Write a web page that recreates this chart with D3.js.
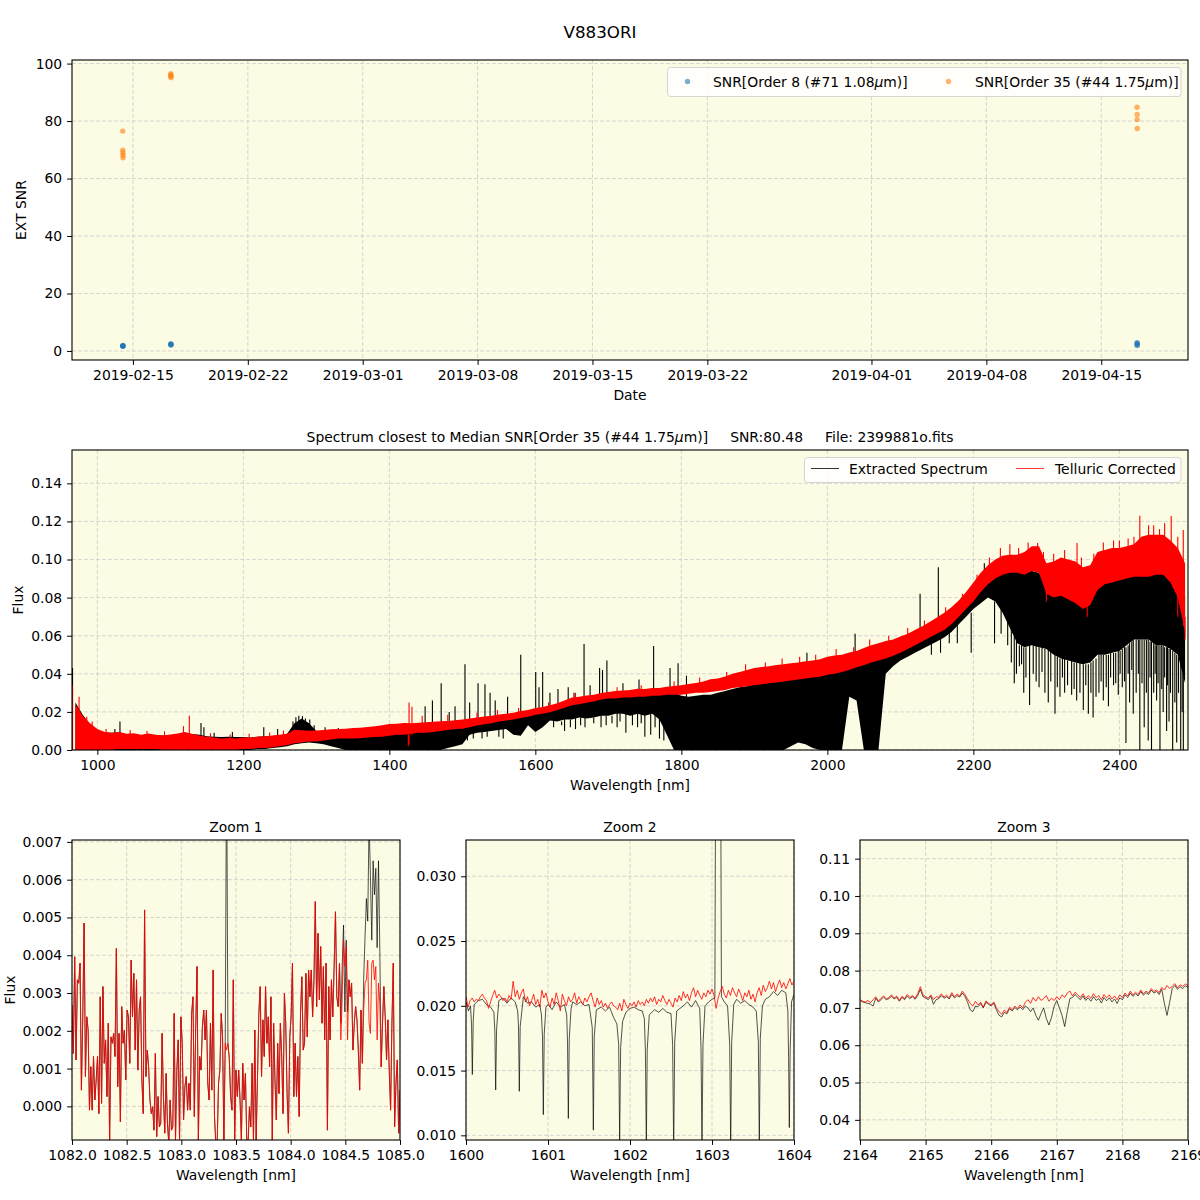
<!DOCTYPE html>
<html><head><meta charset="utf-8">
<script src="https://cdn.jsdelivr.net/npm/d3@7"></script>
<style>
body{margin:0;background:#fff;}
svg{display:block;font-family:'DejaVu Sans',sans-serif;}
</style></head><body>
<svg id="chart" width="1200" height="1200"></svg>
<script>
// ---------------- DATA ----------------
// Top panel: SNR per exposure
const obsTimes = ["2019-02-14T09:05","2019-02-14T09:12","2019-02-14T09:19","2019-02-14T09:26","2019-02-14T09:33",
  "2019-02-17T07:20","2019-02-17T07:27","2019-02-17T07:34","2019-02-17T07:41",
  "2019-04-17T04:20","2019-04-17T04:27","2019-04-17T04:34","2019-04-17T04:41"];
const snrOrder8  = [1.7,1.8,1.6,1.9,1.7, 2.2,2.5,2.3,2.1, 2.9,2.2,1.9,2.6];
const snrOrder35 = [76.5,69.9,69.0,68.1,67.2, 96.5,96.0,95.6,95.1, 84.8,82.3,80.5,77.4];
const dateTicks = ["2019-02-15","2019-02-22","2019-03-01","2019-03-08","2019-03-15","2019-03-22","2019-04-01","2019-04-08","2019-04-15"];
const snrTicks = [0,20,40,60,80,100];

// Middle panel: full spectrum, band envelopes (low/high edge of the dense trace) per wavelength bin
const specWave = [970,980,990,1000,1010,1020,1030,1040,1050,1060,1070,1080,1090,1100,1110,1120,1130,1140,1150,1160,
1170,1180,1190,1200,1210,1220,1230,1240,1250,1260,1270,1280,1290,1300,1310,1320,1330,1340,1350,1360,
1370,1380,1390,1400,1410,1420,1430,1440,1450,1460,1470,1480,1490,1500,1510,1520,1530,1540,1550,1560,
1570,1580,1590,1600,1610,1620,1630,1640,1650,1660,1670,1680,1690,1700,1710,1720,1730,1740,1750,1760,
1770,1780,1790,1800,1810,1820,1830,1840,1850,1860,1870,1880,1890,1900,1910,1920,1930,1940,1950,1960,
1970,1980,1990,2000,2010,2020,2030,2040,2050,2060,2070,2080,2090,2100,2110,2120,2130,2140,2150,2160,
2170,2180,2190,2200,2210,2220,2230,2240,2250,2260,2270,2280,2290,2300,2310,2320,2330,2340,2350,2360,
2370,2380,2390,2400,2410,2420,2430,2440,2450,2460,2470,2480,2490];
const redLo = [0,0,0,0,0,0,0.0005,0.0005,0.0005,0.0005,
0.0005,0.0005,0,0,0,0,0,0,0,0,
0,0,0,0.0005,0.0005,0.001,0.001,0.0015,0.002,0.0025,
0.0035,0.004,0.0045,0.0045,0.005,0.0055,0.006,0.006,0.006,0.0062,
0.0065,0.0068,0.007,0.0075,0.008,0.008,0.0085,0.009,0.009,0.0095,
0.010,0.0105,0.011,0.0112,0.012,0.0128,0.0135,0.014,0.015,0.0155,
0.016,0.0168,0.0175,0.0185,0.019,0.0198,0.021,0.0222,0.0235,0.024,
0.0248,0.0255,0.0265,0.027,0.027,0.0275,0.0275,0.028,0.028,0.0285,
0.0285,0.029,0.029,0.029,0.0295,0.030,0.030,0.0305,0.031,0.0315,
0.0325,0.033,0.0335,0.034,0.0345,0.035,0.0355,0.036,0.0365,0.037,
0.0375,0.038,0.0385,0.0395,0.040,0.041,0.042,0.0435,0.0445,0.046,
0.047,0.048,0.0495,0.051,0.053,0.055,0.057,0.059,0.061,0.063,
0.066,0.070,0.074,0.078,0.083,0.087,0.090,0.092,0.093,0.093,
0.092,0.094,0.093,0.082,0.080,0.081,0.079,0.077,0.074,0.076,
0.084,0.087,0.088,0.089,0.090,0.091,0.091,0.091,0.092,0.092,
0.088,0.080,0.062];
const redHi = [0.024,0.018,0.014,0.011,0.0095,0.009,0.0095,0.0085,0.0088,0.008,
0.0087,0.008,0.0076,0.0082,0.0086,0.0095,0.0084,0.0076,0.007,0.0066,
0.006,0.0063,0.006,0.0066,0.0064,0.0071,0.0072,0.0076,0.008,0.0085,
0.0106,0.0104,0.0101,0.0103,0.0105,0.0109,0.011,0.0112,0.0116,0.0117,
0.0121,0.0125,0.013,0.0136,0.0138,0.0142,0.014,0.0143,0.0146,0.0148,
0.0151,0.0152,0.0156,0.016,0.0166,0.017,0.0176,0.018,0.0186,0.019,
0.0196,0.0205,0.021,0.022,0.0226,0.0235,0.0246,0.026,0.0276,0.028,
0.0286,0.029,0.0299,0.0305,0.031,0.0312,0.0315,0.0321,0.032,0.0326,
0.0325,0.0332,0.0336,0.034,0.0346,0.0352,0.036,0.0371,0.0376,0.0386,
0.040,0.041,0.042,0.043,0.0436,0.044,0.0446,0.045,0.0456,0.046,
0.0466,0.047,0.0476,0.049,0.0496,0.050,0.0512,0.052,0.0536,0.055,
0.056,0.0572,0.058,0.0596,0.061,0.063,0.065,0.0672,0.0695,0.072,
0.075,0.0785,0.083,0.088,0.093,0.097,0.100,0.102,0.1025,0.1025,
0.104,0.107,0.107,0.098,0.099,0.101,0.100,0.099,0.096,0.097,
0.104,0.105,0.106,0.106,0.107,0.108,0.112,0.113,0.113,0.113,
0.110,0.106,0.098];
const blackLo = [0,0,0,0,0,0,0,0,0,0,
0,0,0,0,0,0,0,0,0,0,
0,0,0,0,0,0.0005,0.0005,0.001,0.0015,0.002,
0.003,0.0035,0.004,0.0035,0.003,0.002,0.001,0,0,0,
0,0,0,0,0,0,0,0,0,0,
0,0.001,0.002,0.003,0.008,0.009,0.0095,0.010,0.0105,0.011,
0.008,0.0075,0.013,0.0095,0.012,0.0155,0.015,0.016,0.016,0.017,
0.0165,0.017,0.018,0.018,0.019,0.019,0.018,0.019,0.018,0.019,
0.016,0.008,0,0,0,0,0,0,0,0,
0,0,0,0,0,0,0,0,0.002,0.004,
0.003,0.001,0,0,0,0,0.028,0.026,0,0,
0,0.040,0.044,0.047,0.049,0.051,0.053,0.055,0.057,0.059,
0.062,0.066,0.070,0.074,0.077,0.080,0.078,0.072,0.064,0.056,
0.054,0.055,0.054,0.053,0.050,0.048,0.047,0.046,0.045,0.046,
0.050,0.050,0.051,0.052,0.055,0.058,0.058,0.058,0.055,0.055,
0.053,0.050,0.035];
const blackHi = [0.025,0.0185,0.0135,0.0105,0.0092,0.009,0.0093,0.0083,0.0082,0.0078,
0.0082,0.0078,0.0076,0.0078,0.0082,0.009,0.0084,0.008,0.0072,0.007,
0.0068,0.007,0.0068,0.0068,0.0066,0.007,0.0072,0.0074,0.0078,0.0085,
0.014,0.0165,0.014,0.010,0.0098,0.0095,0.0095,0.009,0.0085,0.0085,
0.0088,0.009,0.0095,0.010,0.0105,0.011,0.0115,0.012,0.0125,0.013,
0.0135,0.014,0.0145,0.015,0.0155,0.016,0.0165,0.017,0.0178,0.0183,
0.0188,0.0195,0.020,0.0208,0.0215,0.0225,0.0235,0.025,0.0262,0.0268,
0.0275,0.028,0.0288,0.0295,0.0298,0.030,0.0302,0.0305,0.0308,0.031,
0.0312,0.031,0.030,0.0285,0.028,0.0285,0.029,0.029,0.030,0.031,
0.032,0.033,0.0335,0.0345,0.035,0.0355,0.036,0.0365,0.037,0.0375,
0.038,0.0385,0.040,0.042,0.0435,0.044,0.0455,0.046,0.0465,0.0475,
0.049,0.051,0.054,0.056,0.058,0.060,0.062,0.0645,0.0665,0.069,
0.072,0.0755,0.079,0.0835,0.0875,0.091,0.0935,0.095,0.095,0.094,
0.093,0.094,0.093,0.085,0.086,0.086,0.085,0.084,0.080,0.082,
0.089,0.089,0.090,0.091,0.092,0.093,0.096,0.096,0.097,0.095,
0.094,0.092,0.080];
// individual lines/spikes: [wavelength, flux from, flux to]
const blackLines = [
[966,0,0.043],[975,0.002,0.020],[1024,0.004,0.011],[1031,0.004,0.0149],[1142,0.003,0.0142],[1146,0.003,0.012],[1160,0.002,0.009],[1185,0.002,0.0095],[1228,0.003,0.012],[1247,0.003,0.011],
[1268,0.006,0.015],[1272,0.006,0.0172],[1276,0.006,0.018],[1281,0.006,0.0178],[1285,0.006,0.0165],[1291,0.005,0.016],[1297,0.005,0.013],[1312,0.004,0.012],[1330,0.003,0.0115],
[1449,0.005,0.023],[1459,0.006,0.026],[1471,0.008,0.035],[1482,0.006,0.020],[1490,0.008,0.023],[1503.6,0.010,0.045],[1510,0.011,0.025],[1521.5,0.011,0.035],[1531,0.011,0.0345],[1538,0.012,0.030],[1545,0.012,0.026],[1562,0.012,0.028],[1580,0.012,0.050],
[1600.5,0.016,0.041],[1605,0.016,0.033],[1610,0.016,0.041],[1620,0.018,0.030],[1631,0.018,0.032],[1645,0.020,0.033],[1653,0.020,0.030],[1666.7,0.022,0.0556],[1675,0.022,0.034],[1688,0.022,0.043],[1692,0.022,0.042],[1698,0.024,0.047],[1720,0.024,0.035],[1742,0.024,0.037],[1762,0.025,0.0546],[1784.5,0.025,0.043],[1795.5,0.025,0.0455],[1807,0.025,0.039],[1972,0.030,0.051],[2038,0.040,0.061],[2127,0.060,0.082],[2152,0.062,0.096],[2215,0.080,0.098],
[1507,0.009,0.005],[1515,0.009,0.006],[1527,0.0095,0.006],[1534,0.0098,0.007],[1550,0.0105,0.007],[1556,0.011,0.006],
[1625,0.0155,0.012],[1636,0.015,0.013],[1640,0.018,0.010],[1648,0.016,0.012],[1655,0.018,0.011],[1662,0.017,0.013],[1668,0.019,0.012],[1680,0.017,0.014],[1690,0.019,0.012],[1697,0.018,0.013],[1705,0.018,0.014],[1712,0.020,0.012],[1716,0.019,0.015],[1724,0.020,0.009],[1733,0.020,0.013],[1740,0.019,0.012],[1745,0.019,0.014],[1750,0.020,0.007],[1758,0.020,0.008],[1764,0.019,0.012],[1770,0.018,0.006],[1776,0.014,0.005],
[2142.5,0.057,0.050],[2155,0.060,0.051],[2167,0.062,0.056],[2178,0.066,0.056],[2197,0.072,0.051],[2229,0.078,0.056],[2238,0.074,0.061],[2247,0.068,0.055],
[2252,0.064,0.046],[2256,0.060,0.035],[2259,0.058,0.040],[2263,0.055,0.044],[2266,0.055,0.045],[2269,0.054,0.030],[2272,0.054,0.038],[2277,0.055,0.0236],[2282,0.055,0.040],[2286,0.055,0.036],[2290,0.054,0.033],[2294,0.054,0.041],[2298,0.053,0.030],[2302.6,0.053,0.025],[2306,0.052,0.036],[2311.8,0.050,0.019],[2315,0.049,0.033],[2318.6,0.048,0.028],[2322,0.048,0.038],[2325,0.048,0.030],[2329,0.047,0.034],[2334.6,0.047,0.029],[2338,0.046,0.032],[2341.5,0.046,0.026],[2346,0.046,0.030],[2350.6,0.045,0.021],[2354,0.045,0.034],[2357.5,0.045,0.019],[2361,0.046,0.030],[2364,0.047,0.017],[2368,0.048,0.028],[2372,0.050,0.030],[2375,0.050,0.036],[2378,0.050,0.026],[2382,0.050,0.033],[2385,0.050,0.023],[2388,0.051,0.038],[2392,0.051,0.034],[2395,0.051,0.035],[2398.5,0.052,0.029],[2401,0.052,0.040],[2404,0.053,0.033],[2407,0.054,0.036],[2409,0.054,0.0037],[2412,0.055,0.040],[2414,0.056,0.025],[2417,0.057,0.042],[2419,0.058,0.019],[2423,0.058,0.030],[2426,0.058,0.040],[2428,0.058,0],[2431,0.058,0.035],[2434,0.058,0.012],[2437,0.058,0.030],[2439.5,0.058,0.005],[2442,0.057,0.038],[2444,0.057,0],[2447,0.056,0.030],[2449,0.055,0.040],[2451,0.055,0.026],[2453,0.055,0.035],[2455.6,0.055,0],[2458,0.055,0.032],[2460,0.055,0.020],[2462,0.054,0.038],[2464.7,0.054,0.010],[2466,0.054,0.034],[2468,0.053,0.015],[2470,0.053,0.030],[2473,0.052,0],[2476,0.051,0.025],[2478.5,0.050,0.004],[2481,0.049,0.030],[2484,0.046,0],[2486,0.043,0.020],[2487.6,0.040,0]];
const redLines = [[966,0,0.034],[975,0,0.028],[985.5,0.002,0.0175],[993,0.002,0.015],[1012,0.008,0.011],[1045,0.007,0.0105],[1068,0.007,0.010],[1092,0.007,0.0098],[1118,0.003,0.0125],[1126,0.003,0.018],[1155,0.006,0.0088],[1182,0.005,0.0082],[1208,0.006,0.0085],[1236,0.006,0.0092],[1255,0.007,0.0102],
[1426,0.008,0.002],[1427,0.003,0.025],[1431,0.008,0.0227],[1445,0.009,0.018],[1480,0.014,0.0185],[1520,0.016,0.0195],[1548,0.017,0.021],[1577,0.019,0.022],[1618,0.022,0.025],[1655,0.026,0.030],[1712,0.029,0.033],[1745,0.030,0.034],[1790,0.032,0.036],[1825,0.034,0.038],[1862,0.037,0.041],[1888,0.040,0.045],[1915,0.042,0.046],[1938,0.044,0.048],[1962,0.045,0.049],[1984,0.046,0.050],[2012,0.048,0.053],[2036,0.050,0.054],[2058,0.053,0.058],[2084,0.056,0.060],[2110,0.060,0.064],[2133,0.064,0.068],[2162,0.070,0.075],[2185,0.078,0.082],[2205,0.088,0.092],[2222,0.096,0.101],
[2237,0.095,0.106],[2250,0.095,0.108],[2262,0.100,0.106],[2275,0.102,0.109],[2288,0.095,0.1087],[2296,0.096,0.104],[2310,0.097,0.103],[2325,0.098,0.105],[2342,0.085,0.1087],[2348,0.094,0.101],[2365,0.095,0.103],[2378,0.102,0.109],[2392,0.104,0.110],[2400,0.095,0.110],[2412,0.105,0.111],[2420,0.106,0.112],[2428,0.095,0.123],[2440,0.095,0.118],[2447,0.110,0.118],[2455,0.095,0.116],[2462,0.110,0.119],[2471,0.095,0.1228],[2480,0.104,0.112],[2487.5,0.085,0.1155],
[2300,0.085,0.078],[2356,0.076,0.070],[2480,0.082,0.070],[2488,0.070,0.065],[2490,0.070,0.058]];
const specTicksX = [1000,1200,1400,1600,1800,2000,2200,2400];
const specTicksY = [0,0.02,0.04,0.06,0.08,0.10,0.12,0.14];

// Zoom 1: 1082-1085 nm, evenly sampled
const zoom1Span = [1082.0, 1085.0];
const zoom1Red = [0.00268,0.00140,0.00396,0.00123,0.00335,0.00326,0.00379,0.00043,0.00237,0.00485,
0.00079,0.00237,0.00202,-0.00010,0.00105,-0.00010,0.00132,0.00017,0.00070,0.00132,
-0.00019,0.00290,0.00008,0.00317,0.00114,0.00176,0.00026,0.00220,-0.00089,0.00184,
0.00167,0.00193,0.00132,0.00418,0.00052,0.00193,-0.00041,0.00264,0.00167,0.00202,
0.00070,0.00255,0.00237,0.00114,0.00387,0.00237,0.00352,0.00149,0.00335,0.00096,
0.00255,0.00290,0.00070,-0.00019,0.00520,0.00079,0.00149,0.00105,0.00017,-0.00019,
-0.00001,-0.00063,0.00140,-0.00080,0.00026,-0.00054,-0.00045,0.00193,0.00026,-0.00071,
0.00087,-0.00045,-0.00098,0.00017,-0.00063,-0.00054,0.00246,-0.00089,0.00096,0.00176,
-0.00089,0.00237,0.00167,-0.00036,0.00052,0.00079,-0.00010,0.00061,-0.00010,0.00246,
0.00290,-0.00027,0.00202,0.00370,-0.00089,0.00132,0.00096,0.00211,0.00255,0.00176,
0.00255,0.00061,0.00017,0.00220,0.00043,0.00361,-0.00027,-0.00098,-0.00098,0.00061,
0.00096,0.00246,0.00184,-0.00089,0.00167,0.00149,0.00167,0.00127,0.00026,-0.00010,
0.00335,-0.00089,0.00096,0.00026,0.00096,0.00017,-0.00089,0.00114,0.00017,0.00087,
-0.00089,-0.00098,-0.00001,-0.00054,0.00114,-0.00089,0.00202,-0.00089,0.00079,0.00246,
0.00317,0.00079,0.00229,0.00132,0.00317,0.00167,0.00237,0.00105,0.00290,-0.00089,
0.00220,0.00070,-0.00036,0.00167,0.00034,0.00220,0.00132,-0.00019,0.00299,0.00220,
0.00034,-0.00071,0.00184,0.00237,0.00379,0.00026,0.00167,0.00026,0.00132,-0.00027,
0.00246,0.00343,0.00149,0.00167,0.00352,0.00184,0.00361,0.00290,0.00361,0.00237,
0.00335,0.00542,0.00264,0.00458,0.00282,0.00423,0.00220,0.00370,0.00176,0.00379,
-0.00063,0.00317,0.00176,0.00335,0.00237,0.00370,0.00515,0.00290,0.00264,0.00379,
0.00176,0.00290,0.00440,0.00370,0.00423,0.00176,0.00335,0.00290,0.00326,0.00149,
0.00220,0.00264,0.00229,0.00149,0.00043,0.00255,0.00114,0.00255,0.00326,0.00335,
0.00387,0.00220,0.00193,0.00379,0.00387,0.00335,0.00370,0.00176,0.00326,0.00273,
0.00105,0.00220,0.00317,0.00237,0.00123,0.00229,0.00096,-0.00010,0.00220,0.00379,
-0.00054,0.00061,0.00123,-0.00071,0.00043];
const zoom1Black = [0.00268,0.00140,0.00396,0.00123,0.00335,0.00326,0.00379,0.00043,0.00237,0.00485,
0.00079,0.00237,0.00202,-0.00010,0.00105,-0.00010,0.00132,0.00017,0.00070,0.00132,
-0.00019,0.00290,0.00008,0.00317,0.00114,0.00176,0.00026,0.00220,-0.00089,0.00184,
0.00167,0.00193,0.00132,0.00418,0.00052,0.00193,-0.00041,0.00264,0.00167,0.00202,
0.00070,0.00255,0.00237,0.00114,0.00387,0.00237,0.00352,0.00149,0.00335,0.00096,
0.00255,0.00290,0.00070,-0.00019,0.00520,0.00079,0.00149,0.00105,0.00017,-0.00019,
-0.00001,-0.00063,0.00140,-0.00080,0.00026,-0.00054,-0.00045,0.00193,0.00026,-0.00071,
0.00087,-0.00045,-0.00098,0.00017,-0.00063,-0.00054,0.00246,-0.00089,0.00096,0.00176,
-0.00089,0.00237,0.00167,-0.00036,0.00052,0.00079,-0.00010,0.00061,-0.00010,0.00246,
0.00290,-0.00027,0.00202,0.00370,-0.00089,0.00132,0.00096,0.00211,0.00255,0.00176,
0.00255,0.00061,0.00017,0.00220,0.00043,0.00361,-0.00027,-0.00098,-0.00098,0.00061,
0.00096,0.00246,0.00184,-0.00089,0.00167,0.00950,0.00167,0.00127,0.00026,-0.00010,
0.00335,-0.00089,0.00096,0.00026,0.00096,0.00017,-0.00089,0.00114,0.00017,0.00087,
-0.00089,-0.00098,-0.00001,-0.00054,0.00114,-0.00089,0.00202,-0.00089,0.00079,0.00246,
0.00317,0.00079,0.00229,0.00132,0.00317,0.00167,0.00237,0.00105,0.00290,-0.00089,
0.00220,0.00070,-0.00036,0.00167,0.00034,0.00220,0.00132,-0.00019,0.00299,0.00220,
0.00034,-0.00071,0.00184,0.00237,0.00379,0.00026,0.00167,0.00026,0.00132,-0.00027,
0.00246,0.00343,0.00149,0.00167,0.00352,0.00184,0.00361,0.00290,0.00361,0.00237,
0.00335,0.00542,0.00264,0.00458,0.00282,0.00423,0.00220,0.00370,0.00176,0.00379,
-0.00063,0.00317,0.00176,0.00335,0.00237,0.00370,0.00515,0.00290,0.00264,0.00379,
0.00220,0.00370,0.00480,0.00250,0.00440,0.00250,0.00335,0.00290,0.00326,0.00149,
0.00220,0.00264,0.00229,0.00149,0.00043,0.00255,0.00114,0.00340,0.00450,0.00550,
0.00490,0.00760,0.00610,0.00440,0.00650,0.00560,0.00630,0.00420,0.00650,0.00410,
0.00105,0.00220,0.00317,0.00237,0.00123,0.00229,0.00096,-0.00010,0.00220,0.00379,
-0.00054,0.00061,0.00123,-0.00071,0.00043];

// Zoom 2: 1600-1604 nm
const zoom2Span = [1600, 1604];
const zoom2Red = [0.0207,0.0199,0.0204,0.0206,0.0203,0.0205,0.0204,0.0207,0.0209,0.0206,0.0204,0.0198,0.0203,0.0208,0.0212,0.0206,0.0209,0.0207,0.0204,0.0206,0.0203,
0.0208,0.0205,0.0219,0.0207,0.0212,0.0205,0.0210,0.0213,0.0203,0.0207,0.0200,0.0204,0.0209,0.0201,0.0205,0.0199,0.0212,0.0206,0.0210,0.0203,
0.0199,0.0206,0.0201,0.0210,0.0204,0.0196,0.0209,0.0204,0.0200,0.0207,0.0203,0.0205,0.0210,0.0202,0.0207,0.0204,0.0201,0.0206,0.0203,0.0207,
0.0210,0.0204,0.0199,0.0206,0.0201,0.0204,0.0199,0.0202,0.0198,0.0201,0.0203,0.0200,0.0199,0.0197,0.0202,0.0196,0.0205,0.0201,0.0198,0.0202,
0.0200,0.0203,0.0199,0.0204,0.0201,0.0203,0.0200,0.0205,0.0202,0.0206,0.0203,0.0207,0.0201,0.0205,0.0203,0.0208,0.0204,0.0201,0.0205,0.0202,
0.0199,0.0206,0.0203,0.0208,0.0204,0.0211,0.0206,0.0209,0.0204,0.0210,0.0214,0.0207,0.0212,0.0208,0.0205,0.0210,0.0207,0.0212,0.0209,0.0213,
0.0208,0.0198,0.0206,0.0211,0.0215,0.0209,0.0206,0.0212,0.0208,0.0214,0.0210,0.0207,0.0213,0.0209,0.0204,0.0210,0.0207,0.0212,0.0205,0.0209,
0.0203,0.0210,0.0214,0.0208,0.0216,0.0211,0.0214,0.0219,0.0213,0.0218,0.0211,0.0216,0.0220,0.0214,0.0218,0.0213,0.0217,0.0221,0.0216,0.0219];
const zoom2BlackWave = [1600.000,1600.030,1600.055,1600.068,1600.077,1600.088,1600.100,1600.150,1600.200,1600.250,1600.300,1600.340,1600.352,1600.362,1600.373,1600.400,1600.450,1600.500,1600.550,1600.600,1600.630,1600.640,1600.650,1600.661,1600.700,1600.750,1600.800,1600.850,1600.900,1600.920,1600.933,1600.943,1600.954,1600.975,
1601.000,1601.050,1601.100,1601.150,1601.200,1601.228,1601.238,1601.248,1601.259,1601.280,1601.300,1601.350,1601.400,1601.450,1601.500,1601.525,1601.540,1601.553,1601.564,1601.590,1601.650,1601.700,1601.750,1601.800,1601.840,1601.862,1601.874,1601.886,1601.910,1601.950,
1602.000,1602.050,1602.100,1602.150,1602.175,1602.188,1602.199,1602.210,1602.235,1602.300,1602.350,1602.400,1602.450,1602.500,1602.520,1602.533,1602.545,1602.570,1602.650,1602.700,1602.750,1602.800,1602.850,1602.866,1602.878,1602.890,1602.915,1602.960,
1603.000,1603.035,1603.045,1603.105,1603.115,1603.150,1603.190,1603.216,1603.228,1603.240,1603.265,1603.300,1603.350,1603.400,1603.450,1603.500,1603.540,1603.565,1603.577,1603.589,1603.615,1603.650,1603.700,1603.750,1603.800,1603.850,1603.900,1603.925,1603.934,1603.943,1603.953,1603.970,1604.000];
const zoom2Black = [0.0203,0.0196,0.0200,0.0185,0.0147,0.0188,0.0201,0.0204,0.0205,0.0201,0.0199,0.0195,0.0180,0.0135,0.0182,0.0204,0.0206,0.0202,0.0206,0.0203,0.0196,0.0185,0.0134,0.0184,0.0207,0.0202,0.0203,0.0199,0.0201,0.0193,0.0176,0.0116,0.0178,0.0199,
0.0201,0.0197,0.0203,0.0199,0.0201,0.0193,0.0172,0.0113,0.0174,0.0197,0.0203,0.0201,0.0203,0.0200,0.0201,0.0190,0.0183,0.0104,0.0176,0.0197,0.0199,0.0196,0.0199,0.0191,0.0186,0.0170,0.0096,0.0168,0.0188,0.0195,
0.0198,0.0199,0.0197,0.0196,0.0190,0.0165,0.0090,0.0166,0.0193,0.0197,0.0195,0.0198,0.0195,0.0194,0.0170,0.0088,0.0172,0.0196,0.0200,0.0203,0.0199,0.0204,0.0198,0.0168,0.0089,0.0170,0.0200,0.0203,
0.0205,0.0206,0.0400,0.0400,0.0207,0.0203,0.0200,0.0170,0.0090,0.0172,0.0201,0.0205,0.0202,0.0204,0.0201,0.0199,0.0196,0.0172,0.0092,0.0175,0.0200,0.0205,0.0207,0.0211,0.0208,0.0212,0.0210,0.0196,0.0160,0.0106,0.0165,0.0203,0.0209];

// Zoom 3: 2164-2169 nm, evenly sampled
const zoom3Span = [2164, 2169];
const zoom3Red = [0.0722,0.0718,0.0716,0.0720,0.0714,0.0722,0.0730,0.0718,0.0726,0.0732,0.0724,
0.0728,0.0735,0.0726,0.0732,0.0720,0.0731,0.0725,0.0736,0.0728,0.0733,0.0726,0.0738,0.0757,0.0735,
0.0730,0.0726,0.0735,0.0722,0.0730,0.0728,0.0738,0.0729,0.0734,0.0727,0.0741,0.0730,0.0737,0.0732,0.0745,0.0736,
0.0724,0.0712,0.0705,0.0718,0.0708,0.0715,0.0702,0.0719,0.0712,0.0708,
0.0716,0.0700,0.0690,0.0683,0.0694,0.0688,0.0702,0.0695,0.0705,0.0698,
0.0708,0.0700,0.0715,0.0722,0.0712,0.0728,0.0718,0.0730,0.0720,0.0725,0.0733,0.0718,0.0726,0.0720,
0.0730,0.0722,0.0735,0.0728,0.0740,0.0745,0.0732,0.0742,0.0735,0.0728,0.0738,0.0725,0.0733,
0.0726,0.0738,0.0728,0.0733,0.0722,0.0736,0.0727,0.0735,0.0724,0.0732,0.0722,0.0735,0.0728,
0.0740,0.0732,0.0745,0.0735,0.0742,0.0736,0.0748,0.0738,0.0745,0.0740,0.0752,0.0744,0.0748,
0.0741,0.0755,0.0748,0.0760,0.0752,0.0758,0.0765,0.0754,0.0762,0.0758,0.0764,0.0760];
const zoom3Black = [0.0720,0.0716,0.0714,0.0712,0.0710,0.0705,0.0726,0.0716,0.0722,0.0729,0.0722,
0.0725,0.0731,0.0724,0.0728,0.0718,0.0728,0.0722,0.0732,0.0725,0.0730,0.0723,0.0733,0.0750,0.0730,
0.0727,0.0722,0.0731,0.0710,0.0722,0.0725,0.0733,0.0726,0.0730,0.0724,0.0736,0.0727,0.0733,0.0729,0.0740,0.0731,
0.0715,0.0695,0.0690,0.0705,0.0703,0.0712,0.0700,0.0715,0.0710,0.0705,
0.0712,0.0695,0.0680,0.0676,0.0688,0.0684,0.0698,0.0692,0.0701,0.0695,
0.0702,0.0695,0.0705,0.0700,0.0690,0.0700,0.0680,0.0667,0.0685,0.0700,0.0672,0.0654,0.0675,0.0705,
0.0720,0.0700,0.0680,0.0650,0.0690,0.0725,0.0728,0.0736,0.0728,0.0722,0.0732,0.0720,0.0727,
0.0718,0.0730,0.0720,0.0725,0.0713,0.0728,0.0719,0.0727,0.0716,0.0724,0.0712,0.0727,0.0722,
0.0735,0.0728,0.0740,0.0731,0.0738,0.0732,0.0744,0.0734,0.0741,0.0736,0.0748,0.0740,0.0744,
0.0736,0.0750,0.0712,0.0680,0.0715,0.0752,0.0760,0.0750,0.0757,0.0752,0.0759,0.0755];

// ---------------- DRAWING ----------------
const FONT = "'DejaVu Sans', sans-serif";
const FS = 13.9;
const BG = "#fcfbe3";
const GRIDC = "#cdcdcd";
const TICK = 4.9, PAD = 4.9;
const svg = d3.select("#chart");
const defs = svg.append("defs");
let clipN = 0;

function styleAxis(a) {
  a.select(".domain").remove();
  a.selectAll(".tick line").attr("stroke", "#000").attr("stroke-width", 1);
  a.selectAll(".tick text").attr("fill", "#000").style("font-size", FS + "px").style("font-family", FONT);
}

function makePanel(o) {
  const [x0, x1] = o.x.range();
  const [yb, yt] = o.y.range();
  const g = svg.append("g");
  g.append("rect").attr("x", x0).attr("y", yt).attr("width", x1 - x0).attr("height", yb - yt).attr("fill", BG);
  const grid = g.append("g").attr("stroke", GRIDC).attr("stroke-width", 0.8).attr("stroke-dasharray", "4,2");
  grid.selectAll("line.gx").data(o.xTicks).join("line").attr("class", "gx")
    .attr("x1", d => o.x(d)).attr("x2", d => o.x(d)).attr("y1", yt).attr("y2", yb);
  grid.selectAll("line.gy").data(o.yTicks).join("line").attr("class", "gy")
    .attr("x1", x0).attr("x2", x1).attr("y1", d => o.y(d)).attr("y2", d => o.y(d));
  const id = "clip" + (clipN++);
  defs.append("clipPath").attr("id", id).append("rect")
    .attr("x", x0).attr("y", yt).attr("width", x1 - x0).attr("height", yb - yt);
  const plot = g.append("g").attr("clip-path", `url(#${id})`);
  function finish() {
    g.append("rect").attr("x", x0).attr("y", yt).attr("width", x1 - x0).attr("height", yb - yt)
      .attr("fill", "none").attr("stroke", "#000").attr("stroke-width", 1.1);
    const ax = g.append("g").attr("transform", `translate(0,${yb})`)
      .call(d3.axisBottom(o.x).tickValues(o.xTicks).tickFormat(o.xFmt).tickSize(TICK).tickPadding(PAD));
    styleAxis(ax);
    const ay = g.append("g").attr("transform", `translate(${x0},0)`)
      .call(d3.axisLeft(o.y).tickValues(o.yTicks).tickFormat(o.yFmt).tickSize(TICK).tickPadding(PAD));
    styleAxis(ay);
  }
  return { g, plot, finish };
}

function addText(x, y, str, opts = {}) {
  const t = svg.append("text").attr("x", x).attr("y", y).attr("text-anchor", opts.anchor || "middle")
    .style("font-size", (opts.size || FS) + "px").style("font-family", FONT).attr("fill", "#000");
  if (opts.rotate) t.attr("transform", `rotate(-90,${x},${y})`);
  t.text(str);
  return t;
}
function muText(x, y, before, after, opts = {}) {
  const t = svg.append("text").attr("x", x).attr("y", y).attr("text-anchor", opts.anchor || "start")
    .style("font-size", FS + "px").style("font-family", FONT).style("white-space", "pre").attr("fill", "#000");
  t.append("tspan").text(before);
  t.append("tspan").attr("font-style", "italic").text("\u03bc");
  t.append("tspan").text(after);
  return t;
}

// Title
addText(600, 38, "V883ORI", { size: 16.7 });

// ---- Top panel ----
const parseT = d3.utcParse("%Y-%m-%dT%H:%M");
const parseD = d3.utcParse("%Y-%m-%d");
const times = obsTimes.map(parseT);
const tExt = d3.extent(times);
const tPad = (tExt[1] - tExt[0]) * 0.05;
const allSnr = snrOrder8.concat(snrOrder35);
const sExt = d3.extent(allSnr);
const sPad = (sExt[1] - sExt[0]) * 0.05;
const xT = d3.scaleUtc().domain([new Date(+tExt[0] - tPad), new Date(+tExt[1] + tPad)]).range([72, 1188]);
const yT = d3.scaleLinear().domain([sExt[0] - sPad, sExt[1] + sPad]).range([360, 60]);
const pTop = makePanel({ x: xT, y: yT, xTicks: dateTicks.map(parseD), yTicks: snrTicks,
  xFmt: d3.utcFormat("%Y-%m-%d"), yFmt: d3.format("d") });
pTop.plot.selectAll("circle.s8").data(snrOrder8).join("circle").attr("class", "s8")
  .attr("cx", (d, i) => xT(times[i])).attr("cy", d => yT(d)).attr("r", 2.7)
  .attr("fill", "#1f77b4").attr("fill-opacity", 0.6);
pTop.plot.selectAll("circle.s35").data(snrOrder35).join("circle").attr("class", "s35")
  .attr("cx", (d, i) => xT(times[i])).attr("cy", d => yT(d)).attr("r", 2.7)
  .attr("fill", "#ff7f0e").attr("fill-opacity", 0.6);
pTop.finish();
addText(630, 400, "Date");
addText(26, 210, "EXT SNR", { rotate: true });
// legend
svg.append("rect").attr("x", 667.5).attr("y", 67.5).attr("width", 513.5).attr("height", 29).attr("rx", 3)
  .attr("fill", "#fff").attr("fill-opacity", 0.8).attr("stroke", "#d4d4d4");
svg.append("circle").attr("cx", 687.5).attr("cy", 81.5).attr("r", 2.7).attr("fill", "#1f77b4").attr("fill-opacity", 0.6);
muText(713, 86.5, "SNR[Order 8 (#71 1.08", "m)]");
svg.append("circle").attr("cx", 948.5).attr("cy", 81.5).attr("r", 2.7).attr("fill", "#ff7f0e").attr("fill-opacity", 0.6);
muText(975, 86.5, "SNR[Order 35 (#44 1.75", "m)]");

// ---- Middle panel ----
const xS = d3.scaleLinear().domain([965.3, 2494]).range([72, 1188]);
const yS = d3.scaleLinear().domain([0, 0.1575]).range([750, 450]);
const pMid = makePanel({ x: xS, y: yS, xTicks: specTicksX, yTicks: specTicksY,
  xFmt: d3.format("d"), yFmt: d3.format(".2f") });
const idx = d3.range(specWave.length);
pMid.plot.append("path").datum(idx)
  .attr("d", d3.area().x(i => xS(specWave[i])).y0(i => yS(blackLo[i])).y1(i => yS(blackHi[i])))
  .attr("fill", "#000");
pMid.plot.append("g").selectAll("line").data(blackLines).join("line")
  .attr("x1", d => xS(d[0])).attr("x2", d => xS(d[0])).attr("y1", d => yS(d[1])).attr("y2", d => yS(d[2]))
  .attr("stroke", "#000").attr("stroke-width", 1.1);
pMid.plot.append("path").datum(idx)
  .attr("d", d3.area().x(i => xS(specWave[i])).y0(i => yS(redLo[i])).y1(i => yS(redHi[i])))
  .attr("fill", "#ff0000");
pMid.plot.append("g").selectAll("line").data(redLines).join("line")
  .attr("x1", d => xS(d[0])).attr("x2", d => xS(d[0])).attr("y1", d => yS(d[1])).attr("y2", d => yS(d[2]))
  .attr("stroke", "#ff0000").attr("stroke-width", 1.1);
pMid.finish();
muText(630, 442, "Spectrum closest to Median SNR[Order 35 (#44 1.75", "m)]     SNR:80.48     File: 2399881o.fits", { anchor: "middle" });
addText(630, 790, "Wavelength [nm]");
addText(23, 600, "Flux", { rotate: true });
// legend
svg.append("rect").attr("x", 804.5).attr("y", 457.5).attr("width", 376.5).attr("height", 25).attr("rx", 3)
  .attr("fill", "#fff").attr("fill-opacity", 0.8).attr("stroke", "#d4d4d4");
svg.append("line").attr("x1", 811).attr("x2", 839).attr("y1", 468.5).attr("y2", 468.5).attr("stroke", "#000").attr("stroke-width", 1).attr("stroke-opacity", 0.8);
addText(849, 473.5, "Extracted Spectrum", { anchor: "start" });
svg.append("line").attr("x1", 1016).attr("x2", 1044).attr("y1", 468.5).attr("y2", 468.5).attr("stroke", "#ff0000").attr("stroke-width", 1).attr("stroke-opacity", 0.8);
addText(1055, 473.5, "Telluric Corrected", { anchor: "start" });

// ---- Zoom panels ----
function zoomPanel(cfg) {
  const x = d3.scaleLinear().domain(cfg.xDom).range(cfg.xRange);
  const y = d3.scaleLinear().domain(cfg.yDom).range([1140, 840]);
  const p = makePanel({ x, y, xTicks: cfg.xTicks, yTicks: cfg.yTicks, xFmt: cfg.xFmt, yFmt: cfg.yFmt });
  const blackLine = d3.line().x((d, i) => x(cfg.blackX(i))).y(d => y(d));
  const redLine = d3.line().x((d, i) => x(cfg.redX(i))).y(d => y(d));
  p.plot.append("path").datum(cfg.black).attr("d", blackLine).attr("fill", "none")
    .attr("stroke", "#000").attr("stroke-width", 0.8).attr("stroke-opacity", 0.85).attr("stroke-linejoin", "round");
  p.plot.append("path").datum(cfg.red).attr("d", redLine).attr("fill", "none")
    .attr("stroke", "#ff0000").attr("stroke-width", 1).attr("stroke-opacity", 0.8).attr("stroke-linejoin", "round");
  p.finish();
  const cx = (cfg.xRange[0] + cfg.xRange[1]) / 2;
  addText(cx, 832, cfg.title);
  addText(cx, 1180, "Wavelength [nm]");
}
const even = (span, n) => d3.scaleLinear().domain([0, n - 1]).range(span);
const z1s = even(zoom1Span, zoom1Red.length);
zoomPanel({ xDom: zoom1Span, xRange: [72, 400], yDom: [-0.00089, 0.00705],
  xTicks: [1082.0, 1082.5, 1083.0, 1083.5, 1084.0, 1084.5, 1085.0],
  yTicks: [0, 0.001, 0.002, 0.003, 0.004, 0.005, 0.006, 0.007],
  xFmt: d3.format(".1f"), yFmt: d3.format(".3f"),
  red: zoom1Red, black: zoom1Black, redX: z1s, blackX: z1s, title: "Zoom 1" });
addText(15, 990, "Flux", { rotate: true });
const z2s = even(zoom2Span, zoom2Red.length);
zoomPanel({ xDom: zoom2Span, xRange: [466, 794], yDom: [0.00964, 0.0328],
  xTicks: [1600, 1601, 1602, 1603, 1604], yTicks: [0.010, 0.015, 0.020, 0.025, 0.030],
  xFmt: d3.format("d"), yFmt: d3.format(".3f"),
  red: zoom2Red, black: zoom2Black, redX: z2s, blackX: i => zoom2BlackWave[i], title: "Zoom 2" });
const z3s = even(zoom3Span, zoom3Red.length);
zoomPanel({ xDom: zoom3Span, xRange: [860, 1188], yDom: [0.0346, 0.115],
  xTicks: [2164, 2165, 2166, 2167, 2168, 2169], yTicks: [0.04, 0.05, 0.06, 0.07, 0.08, 0.09, 0.10, 0.11],
  xFmt: d3.format("d"), yFmt: d3.format(".2f"),
  red: zoom3Red, black: zoom3Black, redX: z3s, blackX: z3s, title: "Zoom 3" });
</script>
</body></html>
